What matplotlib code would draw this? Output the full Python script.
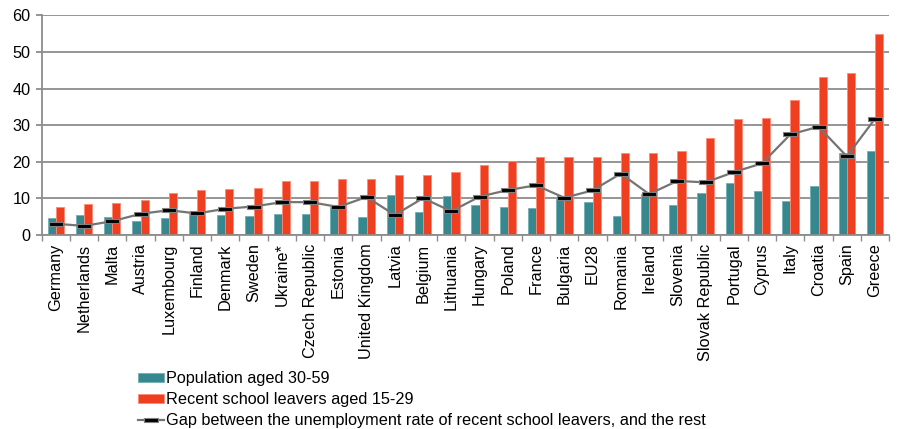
import numpy as np
import matplotlib
matplotlib.use("Agg")
import matplotlib.pyplot as plt

plt.rcParams['font.family'] = ['Liberation Sans', 'DejaVu Sans']

# data
countries = ["Germany", "Netherlands", "Malta", "Austria", "Luxembourg", "Finland",
             "Denmark", "Sweden", "Ukraine*", "Czech Republic", "Estonia",
             "United Kingdom", "Latvia", "Belgium", "Lithuania", "Hungary", "Poland",
             "France", "Bulgaria", "EU28", "Romania", "Ireland", "Slovenia",
             "Slovak Republic", "Portugal", "Cyprus", "Italy", "Croatia", "Spain", "Greece"]
pop_30_59 = [4.6, 5.5, 4.9, 3.8, 4.6, 6.0, 5.5, 5.1, 5.7, 5.7, 7.7, 4.9, 10.9, 6.4, 10.7,
             8.3, 7.8, 7.4, 10.2, 9.0, 5.2, 11.2, 8.1, 11.5, 14.2, 12.1, 9.2, 13.3, 22.4, 23.0]
leavers_15_29 = [7.8, 8.4, 8.9, 9.7, 11.5, 12.2, 12.7, 13.0, 14.7, 14.7, 15.4, 15.4, 16.3,
                 16.5, 17.3, 19.1, 20.3, 21.2, 21.4, 21.4, 22.3, 22.4, 23.1, 26.4, 31.7,
                 31.9, 36.9, 43.1, 44.2, 55.0]
gap = [3.1, 2.5, 3.8, 5.8, 6.8, 5.9, 7.2, 7.8, 9.0, 9.0, 7.7, 10.4, 5.5, 10.1, 6.5, 10.5,
       12.3, 13.6, 10.2, 12.2, 16.8, 11.2, 14.8, 14.4, 17.2, 19.6, 27.5, 29.6, 21.5, 31.8]

teal = '#37878F'
red = '#F03E21'
grid_c = '#8C8C8C'

fig = plt.figure(figsize=(9, 4.29), dpi=100)
ax = fig.add_axes([0.0463, 0.452, 0.9417, 0.512])

x = np.arange(len(countries))
w = 0.29
b1 = ax.bar(x - w / 2, pop_30_59, w, color=teal, edgecolor='#6FB0B6', linewidth=0.6,
            label='Population aged 30-59', zorder=2)
b2 = ax.bar(x + w / 2, leavers_15_29, w, color=red, edgecolor='#FF8A75', linewidth=0.6,
            label='Recent school leavers aged 15-29', zorder=2)

dash = [(-1, -0.28), (1, -0.28), (1, 0.28), (-1, 0.28), (-1, -0.28)]
ln, = ax.plot(x, gap, color='#747474', lw=1.6, marker=dash, ms=10, mfc='black', mec='#808080',
              mew=0.8, zorder=3,
              label='Gap between the unemployment rate of recent school leavers, and the rest')

ax.set_xlim(-0.5, len(countries) - 0.5)
ax.set_ylim(0, 60)
ax.set_yticks(range(0, 61, 10))
ax.yaxis.grid(True, color=grid_c, lw=1.3, zorder=0)
ax.set_axisbelow(True)

ax.set_xticks(x)
ax.set_xticklabels(countries, rotation=90, fontsize=11.7)
ax.set_xticks(np.arange(-0.5, len(countries), 1), minor=True)
ax.tick_params(axis='x', which='major', length=0, pad=6)
ax.tick_params(axis='x', which='minor', length=4, color=grid_c, width=1)
ax.tick_params(axis='y', length=4, color=grid_c, width=1.3, labelsize=11.7, pad=4)

for s in ['top', 'right']:
    ax.spines[s].set_visible(False)
ax.spines['left'].set_color(grid_c)
ax.spines['left'].set_linewidth(1.3)
ax.spines['bottom'].set_color(grid_c)
ax.spines['bottom'].set_linewidth(1.3)

fig.legend(handles=[b1, b2, ln], loc='upper left', bbox_to_anchor=(0.153, 0.135),
           bbox_transform=fig.transFigure, frameon=False, fontsize=11.7, handlelength=1.6,
           handleheight=0.45, handletextpad=0.15, labelspacing=0.38, borderaxespad=0,
           borderpad=0)

fig.savefig('out.png', dpi=100)
